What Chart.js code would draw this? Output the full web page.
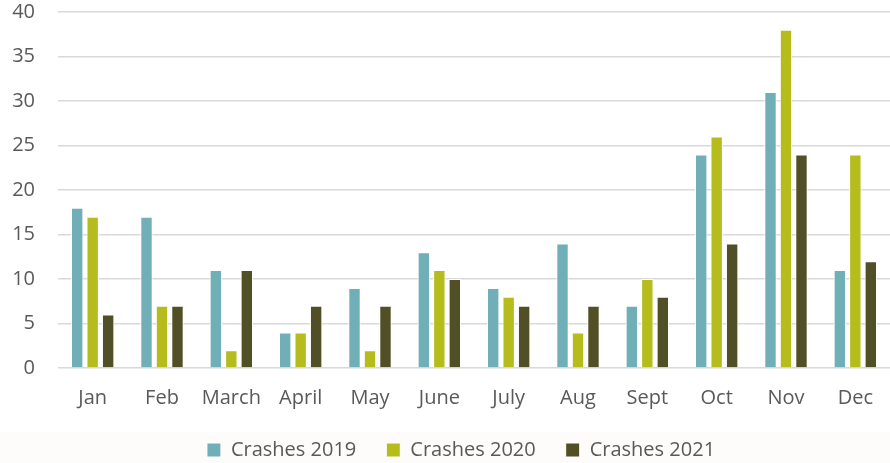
<!DOCTYPE html>
<html>
<head>
<meta charset="utf-8">
<script src="https://cdn.jsdelivr.net/npm/chart.js@4/dist/chart.umd.min.js"></script>
<style>
  html, body { margin: 0; padding: 0; background: #fff; overflow: hidden; width: 890px; height: 463px; }
  canvas { display: block; }
</style>
</head>
<body>
<canvas id="myChart" width="890" height="463"></canvas>
<script>
var months = ["Jan", "Feb", "March", "April", "May", "June", "July", "Aug", "Sept", "Oct", "Nov", "Dec"];
var crashes2019 = [18, 17, 11, 4, 9, 13, 9, 14, 7, 24, 31, 11];
var crashes2020 = [17, 7, 2, 4, 2, 11, 8, 4, 10, 26, 38, 24];
var crashes2021 = [6, 7, 11, 7, 7, 10, 7, 7, 8, 14, 24, 12];

var font = "'Open Sans', 'Noto Sans', sans-serif";
var textColor = "#595959";

// page positions
var plotTop = 12, plotBottom = 368;

var bar = function (label, data, color) {
    return {
        label: label,
        data: data,
        backgroundColor: color,
        borderColor: "#ffffff",
        borderWidth: 1,
        categoryPercentage: 0.67,
        barPercentage: 0.8
    };
};

// faint band behind the legend, legend nudged right like the original
var band = {
    id: "band",
    beforeDraw: function (chart) {
        var shift = chart.chartArea.top - plotTop;
        var c = chart.ctx;
        c.save();
        c.fillStyle = "#fdfcfa";
        c.fillRect(0, 432 + shift, chart.width, chart.height);
        c.restore();
        if (!chart.$nudged) {
            chart.legend.left += 16;
            chart.legend.right += 16;
            chart.$nudged = true;
        }
    }
};

var config = function () {
    return {
        type: 'bar',
        data: {
            labels: months,
            datasets: [
                bar("Crashes 2019", crashes2019, "#70afb8"),
                bar("Crashes 2020", crashes2020, "#b5bc1c"),
                bar("Crashes 2021", crashes2021, "#504f25")
            ]
        },
        plugins: [band],
        options: {
            responsive: false,
            animation: false,
            layout: { padding: 0 },
            plugins: {
                tooltip: { enabled: false },
                legend: {
                    position: 'bottom',
                    labels: {
                        color: textColor,
                        font: { family: font, size: 20 },
                        boxWidth: 14,
                        boxHeight: 14,
                        padding: 30
                    }
                }
            },
            scales: {
                x: {
                    grid: { display: false },
                    border: { display: false },
                    ticks: {
                        color: textColor,
                        font: { family: font, size: 20 },
                        padding: 10
                    },
                    afterFit: function (s) { s.height = 42; }
                },
                y: {
                    min: 0,
                    max: 40,
                    ticks: {
                        stepSize: 5,
                        color: textColor,
                        font: { family: font, size: 20 },
                        padding: 23
                    },
                    grid: { color: "#d9d9d9", lineWidth: 1.5, drawTicks: false },
                    border: { display: false },
                    afterFit: function (s) { s.width = 58; }
                }
            }
        }
    };
};

window.onload = function () {
    var canvas = document.getElementById("myChart");
    var build = function (h) {
        canvas.width = 890;
        canvas.height = h;
        canvas.style.width = "890px";
        canvas.style.height = h + "px";
        return new Chart(canvas.getContext("2d"), config());
    };
    var chart = build(463);
    var a = chart.chartArea;
    var h = Math.round(463 + (plotBottom - plotTop) - (a.bottom - a.top));
    chart.destroy();
    chart = build(h);
    canvas.style.marginTop = -(chart.chartArea.top - plotTop) + "px";
};
</script>
</body>
</html>
